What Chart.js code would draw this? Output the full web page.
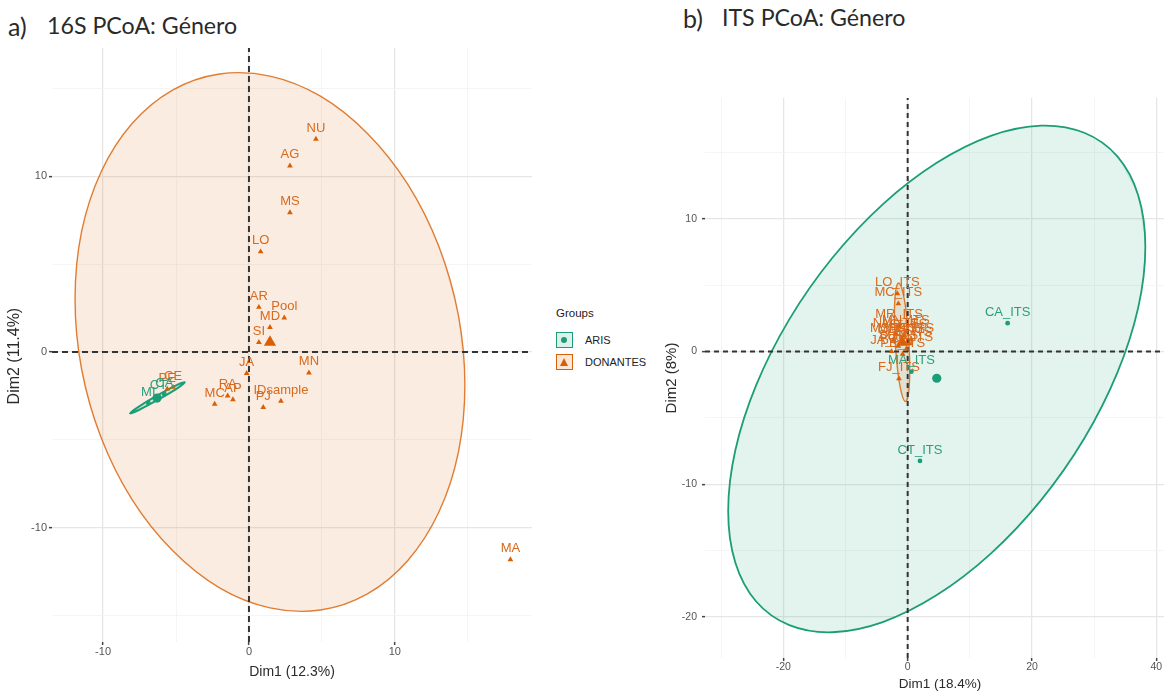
<!DOCTYPE html>
<html><head><meta charset="utf-8">
<script src="https://cdn.jsdelivr.net/npm/chart.js@4.4.1/dist/chart.umd.min.js"></script>
<style>
html,body{margin:0;padding:0;background:#fff;}
body{width:1164px;height:693px;overflow:hidden;position:relative;font-family:"Liberation Sans",Arial,sans-serif;}
.wrap{position:absolute;top:0;height:693px;}
#wa{left:0;width:545px;}
#wb{left:660px;width:530px;}
.ttl{position:absolute;font-family:Lato,"Open Sans",sans-serif;color:#2a2a2a;white-space:nowrap;line-height:1;}
.lg{position:absolute;color:#222;font-size:11px;line-height:1;white-space:nowrap;}
.key{position:absolute;width:17px;height:16px;box-sizing:border-box;}
</style></head>
<body>
<div class="ttl" style="left:8px;top:14px;font-size:25px">a)</div>
<div class="ttl" style="left:47px;top:14px;font-size:23.2px">16S PCoA: Género</div>
<div class="ttl" style="left:683px;top:6px;font-size:25px">b)</div>
<div class="ttl" style="left:722px;top:6px;font-size:23.2px">ITS PCoA: Género</div>
<div class="wrap" id="wa"><canvas id="ca" width="545" height="693"></canvas></div>
<div class="wrap" id="wb"><canvas id="cb" width="530" height="693"></canvas></div>
<div class="lg" style="left:556px;top:308px;font-size:11.5px">Groups</div>
<div class="key" style="left:556px;top:332px;border:1.5px solid #1B9E77;background:rgba(27,158,119,0.15)"><div style="position:absolute;left:4px;top:3.5px;width:6px;height:6px;border-radius:50%;background:#1B9E77"></div></div>
<div class="key" style="left:556px;top:354px;border:1.5px solid #D95F02;background:rgba(217,95,2,0.15)"><div style="position:absolute;left:2.5px;top:2.5px;width:0;height:0;border-left:4.5px solid transparent;border-right:4.5px solid transparent;border-bottom:8px solid #D95F02"></div></div>
<div class="lg" style="left:585px;top:335px">ARIS</div>
<div class="lg" style="left:585px;top:357px">DONANTES</div>
<script>
const GREEN = '#1B9E77', ORANGE = '#D95F02';
const GREEN_TXT = '#2a9f7c', ORANGE_TXT = '#d9691c';

// ---------- Panel a: 16S ----------
const aDonNames = ["NU","AG","MS","LO","AR","Pool","MD","SI","JA","MN","IDsample","PJ","RA","AP","MC","MA","PE","CE"];
const aDonX = [4.59,2.81,2.81,0.80,0.68,2.42,1.44,0.68,-0.16,4.11,2.19,0.98,-1.46,-1.10,-2.35,17.92,-5.6,-5.2];
const aDonY = [12.12,10.60,7.94,5.71,2.55,1.95,1.41,0.55,-1.21,-1.18,-2.79,-3.15,-2.49,-2.70,-2.96,-11.81,-2.1,-2.0];
const aArisNames = ["MI","CT","CA"];
const aArisX = [-6.9,-6.2,-5.8];
const aArisY = [-2.9,-2.55,-2.4];
const aDonCentroid = [1.44, 0.55];
const aArisCentroid = [-6.30, -2.62];
const aEllDonX = [14.80,14.35,13.01,10.89,8.12,4.90,1.44,-2.02,-5.24,-8.01,-10.13,-11.47,-11.92,-11.47,-10.13,-8.01,-5.24,-2.02,1.44,4.90,8.12,10.89,13.01,14.35];
const aEllDonY = [-1.88,2.12,6.02,9.54,12.44,14.56,15.70,15.82,14.90,13.00,10.26,6.86,3.02,-0.98,-4.88,-8.40,-11.30,-13.42,-14.56,-14.68,-13.76,-11.86,-9.12,-5.72];
const aEllArisX = [-4.39,-4.89,-6.20,-7.55,-8.16,-7.65,-6.34,-4.99];
const aEllArisY = [-1.72,-2.05,-2.70,-3.30,-3.49,-3.16,-2.50,-1.90];
const aXRange = [-13.5, 19.4];
const aYRange = [-16.5, 17.3];
const aXTickLabels = [-10, 0, 10];
const aYTickLabels = [-10, 0, 10];

// ---------- Panel b: ITS ----------
const bDonNames = ["LO_ITS","MC_ITS","MR_ITS","MN_ITS","NU_ITS","AG_ITS","RA_ITS","MS_ITS","MD_ITS","AR_ITS","SI_ITS","JA_ITS","PE_ITS","Pool_ITS","FJ_ITS"];
const bDonX = [-1.66,-1.50,-1.40,-0.30,-1.90,-0.60,0.60,-2.30,-1.00,0.30,-1.50,-2.60,-0.80,-0.20,-1.40];
const bDonY = [4.36,3.60,1.97,1.50,1.30,1.20,0.90,0.90,0.80,0.60,0.40,0.00,-0.20,0.20,-2.05];
const bArisNames = ["CA_ITS","CT_ITS","MA_ITS"];
const bArisX = [16.08,1.98,0.60];
const bArisY = [2.13,-8.25,-1.52];
const bDonCentroid = [-0.9, 0.7];
const bArisCentroid = [4.68, -2.02];
const bEllArisX = [38.23,37.09,33.73,28.40,21.46,13.37,4.68,-4.01,-12.10,-19.04,-24.37,-27.73,-28.87,-27.73,-24.37,-19.04,-12.10,-4.01,4.68,13.37,21.46,28.40,33.73,37.09];
const bEllArisY = [7.88,11.76,14.70,16.48,17.02,16.25,14.22,11.09,7.06,2.42,-2.54,-7.46,-12.02,-15.90,-18.84,-20.62,-21.16,-20.39,-18.36,-15.23,-11.20,-6.56,-1.60,3.32];
const bEllDonX = [0.20,-0.22,-0.83,-1.45,-1.93,-2.13,-2.00,-1.58,-0.97,-0.35,0.13,0.33];
const bEllDonY = [0.69,2.93,4.56,5.16,4.56,2.93,0.69,-1.55,-3.18,-3.78,-3.18,-1.55];
const bXRange = [-32.6, 43.0];
const bYRange = [-23.1, 19.1];
const bXTickLabels = [-20, 0, 20, 40];
const bYTickLabels = [-20, -10, 0, 10];

// ---------- helpers ----------
const pts = (xs, ys) => xs.map((x, i) => ({x, y: ys[i]}));
// closed outline: repeat the first three points so every visible segment has smooth neighbours
const loop = (xs, ys) => { const p = pts(xs, ys); p.push({...p[0]}, {...p[1]}, {...p[2]}); return p; };
const NB = '\u00a0';

const labelPlugin = {
  id: 'pointLabels',
  afterDatasetsDraw(chart) {
    const ctx = chart.ctx;
    chart.data.datasets.forEach((ds, i) => {
      if (!ds.pointLabels) return;
      const meta = chart.getDatasetMeta(i);
      ctx.save();
      ctx.font = ds.labelFont;
      ctx.fillStyle = ds.labelColor;
      ctx.textAlign = 'center';
      ctx.textBaseline = 'middle';
      meta.data.forEach((el, j) => ctx.fillText(ds.pointLabels[j], el.x, el.y - ds.labelOffset));
      ctx.restore();
    });
  }
};

function axis(range, step, labeled, o) {
  return {
    type: 'linear', min: range[0], max: range[1],
    border: {display: false},
    grid: {
      color: c => labeled.includes(c.tick && c.tick.value) ? '#e6e6e6' : '#f3f3f3',
      lineWidth: c => labeled.includes(c.tick && c.tick.value) ? 1.3 : 0.8,
      tickColor: c => labeled.includes(c.tick && c.tick.value) ? '#444' : 'rgba(0,0,0,0)',
      tickLength: 3, tickWidth: 1.5
    },
    ticks: {
      stepSize: step, includeBounds: false, autoSkip: false, maxRotation: 0,
      padding: o.tickPad, color: '#555', font: {family: '"Liberation Sans", Arial, sans-serif', size: o.tickSize},
      callback: v => labeled.includes(v) ? String(v) : ''
    },
    title: {display: true, text: o.title, color: '#2b2b2b',
      font: {family: '"Liberation Sans", Arial, sans-serif', size: o.titleSize},
      padding: o.titlePad},
    afterFit: o.fit
  };
}

function ellipseDataset(xs, ys, tension, color, fillColor, width, order) {
  const data = loop(xs, ys);
  const n = data.length;
  return {
    data, showLine: true, tension, pointRadius: 0,
    borderColor: color, borderWidth: width, backgroundColor: fillColor, fill: 'shape', order,
    segment: {borderColor: c => (c.p0DataIndex === 0 || c.p1DataIndex === n - 1) ? 'rgba(0,0,0,0)' : undefined}
  };
}

function makeChart(id, cfg) {
  const ds = [
    ellipseDataset(cfg.ellDonX, cfg.ellDonY, cfg.donTension, 'rgba(217,95,2,0.8)', 'rgba(217,95,2,0.12)', 1.4, 20),
    ellipseDataset(cfg.ellArisX, cfg.ellArisY, cfg.arisTension, GREEN, 'rgba(27,158,119,0.12)', cfg.arisEllWidth, cfg.arisEllOrder),
    // dashed reference lines
    {data: [{x: cfg.xRange[0], y: 0}, {x: cfg.xRange[1], y: 0}], showLine: true, pointRadius: 0,
     borderColor: '#333', borderWidth: 2, borderDash: cfg.dash, order: 8},
    {data: [{x: 0, y: cfg.yRange[0]}, {x: 0, y: cfg.yRange[1]}], showLine: true, pointRadius: 0,
     borderColor: '#333', borderWidth: 2, borderDash: cfg.dash, order: 8},
    // points
    {data: pts(cfg.donX, cfg.donY), pointStyle: 'triangle', pointRadius: 3.3, pointBorderWidth: 0,
     backgroundColor: ORANGE, order: 4,
     pointLabels: cfg.donNames, labelFont: '13px "Liberation Sans", Arial, sans-serif', labelColor: ORANGE_TXT, labelOffset: 11},
    {data: pts(cfg.arisX, cfg.arisY), pointStyle: 'circle', pointRadius: 2.4, pointBorderWidth: 0,
     backgroundColor: GREEN, order: 3,
     pointLabels: cfg.arisNames, labelFont: '13px "Liberation Sans", Arial, sans-serif', labelColor: GREEN_TXT, labelOffset: 11},
    // centroids
    {data: [{x: cfg.donC[0], y: cfg.donC[1]}], pointStyle: 'triangle', pointRadius: 7, pointBorderWidth: 0,
     backgroundColor: ORANGE, order: 2},
    {data: [{x: cfg.arisC[0], y: cfg.arisC[1]}], pointStyle: 'circle', pointRadius: 4.6, pointBorderWidth: 0,
     backgroundColor: GREEN, order: 1}
  ];
  return new Chart(document.getElementById(id), {
    type: 'scatter',
    data: {datasets: ds},
    plugins: [labelPlugin],
    options: {
      responsive: false, animation: false, events: [],
      layout: {padding: cfg.padding},
      plugins: {legend: {display: false}, tooltip: {enabled: false}},
      scales: {x: cfg.x, y: cfg.y}
    }
  });
}

makeChart('ca', {
  ellDonX: aEllDonX, ellDonY: aEllDonY, ellArisX: aEllArisX, ellArisY: aEllArisY,
  donTension: 0.34, arisTension: 0.37, arisEllWidth: 2, arisEllOrder: 6,
  donX: aDonX, donY: aDonY, donNames: aDonNames,
  arisX: aArisX, arisY: aArisY, arisNames: aArisNames,
  donC: aDonCentroid, arisC: aArisCentroid,
  xRange: aXRange, yRange: aYRange, dash: [6, 4],
  padding: {top: 48, right: 13, left: 0, bottom: 0},
  x: axis(aXRange, 5, aXTickLabels, {title: 'Dim1 (12.3%)', titleSize: 14, titlePad: {top: 0, bottom: 12}, tickPad: 0, tickSize: 11,
     fit: s => { s.height = 51; }}),
  y: axis(aYRange, 5, aYTickLabels, {title: 'Dim2 (11.4%)' + NB.repeat(5), titleSize: 16, titlePad: {top: 5, bottom: 0}, tickPad: 2, tickSize: 11,
     fit: s => { s.width = 52; }})
});

makeChart('cb', {
  ellDonX: bEllDonX, ellDonY: bEllDonY, ellArisX: bEllArisX, ellArisY: bEllArisY,
  donTension: 0.35, arisTension: 0.34, arisEllWidth: 1.8, arisEllOrder: 21,
  donX: bDonX, donY: bDonY, donNames: bDonNames,
  arisX: bArisX, arisY: bArisY, arisNames: bArisNames,
  donC: bDonCentroid, arisC: bArisCentroid,
  xRange: bXRange, yRange: bYRange, dash: [5, 4],
  padding: {top: 98, right: 15, left: 0, bottom: 0},
  x: axis(bXRange, 10, bXTickLabels, {title: 'Dim1 (18.4%)', titleSize: 13.5, titlePad: {top: 0, bottom: 1}, tickPad: 0, tickSize: 10.5,
     fit: s => { s.height = 35; }}),
  y: axis(bYRange, 5, bYTickLabels, {title: 'Dim2 (8%)', titleSize: 15, titlePad: {top: 3, bottom: 0}, tickPad: 5, tickSize: 10.5,
     fit: s => { s.width = 45; }})
});
</script>
</body></html>
